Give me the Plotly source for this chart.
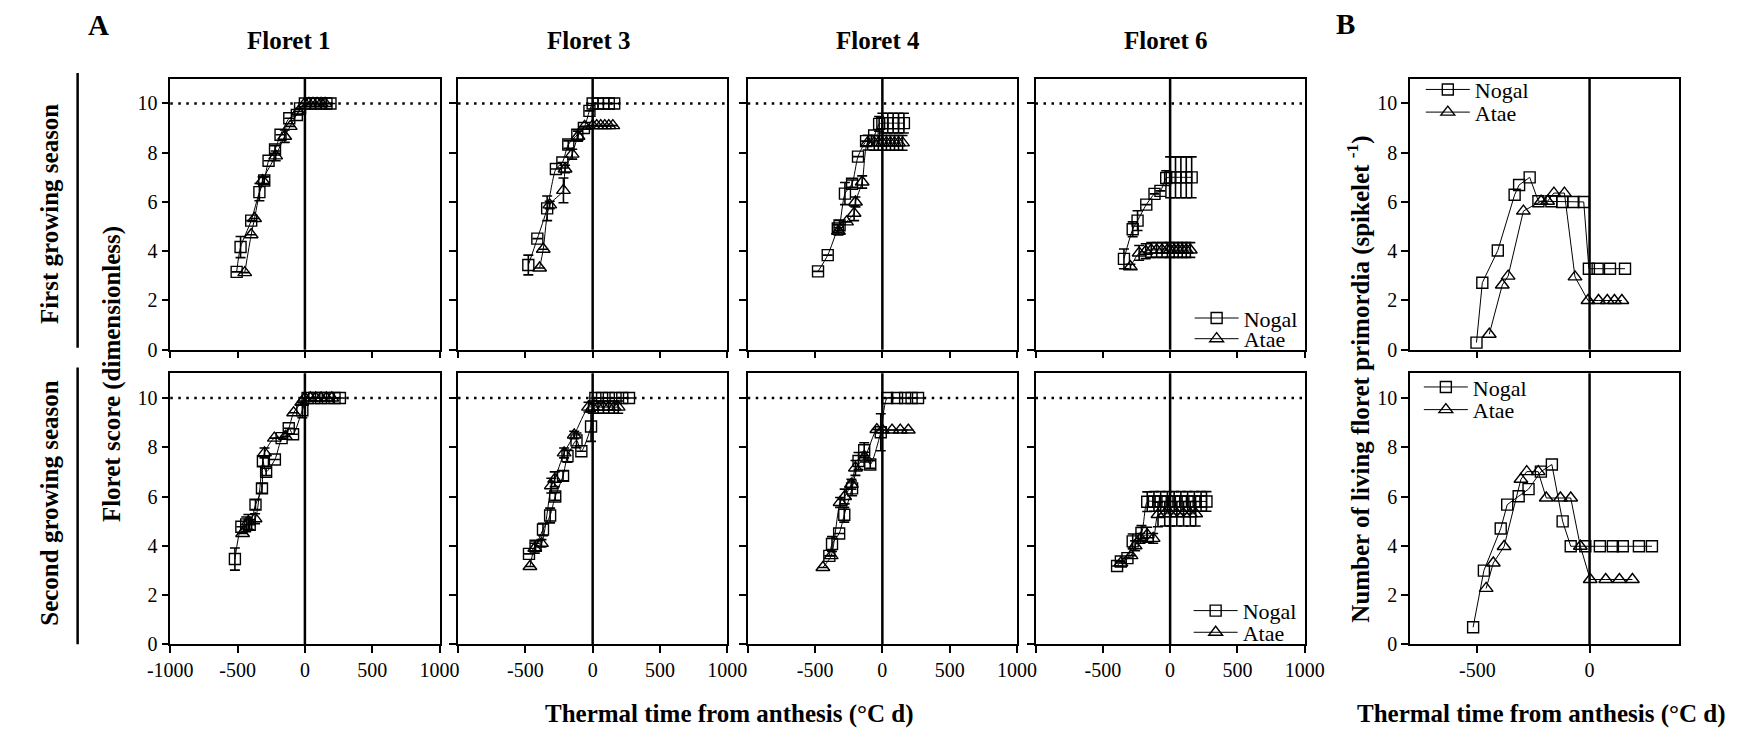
import plotly.graph_objects as go

W, H = 1751, 741
FONT = "Liberation Serif, Times New Roman, serif"

# ---------------- Floret score, first growing season ----------------
f1_s1_nogal_x = [-507, -478, -399, -338, -302, -270, -222, -181, -116, -60, -36, 0, 40, 80, 120, 160, 190]
f1_s1_nogal_y = [3.16, 4.17, 5.24, 6.4, 6.87, 7.67, 8.13, 8.73, 9.4, 9.53, 9.8, 10, 10, 10, 10, 10, 10]
f1_s1_nogal_e = [None, 0.43, None, 0.35, 0.15, None, 0.15, None, None, None, None, None, None, None, None, None, None]
f1_s1_atae_x = [-447, -399, -374, -314, -217, -150, -109, -48, 0, 30, 60, 90, 120, 150]
f1_s1_atae_y = [3.13, 4.67, 5.33, 6.87, 7.87, 8.67, 9.07, 9.67, 10, 10, 10, 10, 10, 10]
f1_s1_atae_e = [None, None, None, 0.15, 0.2, 0.25, None, None, None, None, None, None, None, None]

f3_s1_nogal_x = [-478, -411, -338, -273, -225, -181, -114, -65, -24, 0, 40, 80, 120, 160]
f3_s1_nogal_y = [3.44, 4.51, 5.74, 7.34, 7.6, 8.33, 8.73, 9.0, 9.7, 10, 10, 10, 10, 10]
f3_s1_nogal_e = [0.4, None, 0.5, None, None, 0.15, 0.2, None, None, None, None, None, None, None]
f3_s1_atae_x = [-394, -367, -319, -217, -205, -152, -109, -60, 0, 30, 60, 90, 120, 150]
f3_s1_atae_y = [3.32, 4.08, 5.88, 6.47, 7.34, 7.94, 8.67, 9.07, 9.1, 9.1, 9.1, 9.1, 9.1, 9.1]
f3_s1_atae_e = [None, None, 0.15, 0.5, 0.15, 0.2, 0.2, None, None, None, None, None, None, None]

f4_s1_nogal_x = [-478, -406, -331, -318, -278, -225, -181, -121, -61, -24, 0, 40, 80, 120, 160]
f4_s1_nogal_y = [3.18, 3.84, 4.92, 5.05, 6.34, 6.74, 7.84, 8.47, 8.7, 9.17, 9.2, 9.2, 9.2, 9.2, 9.2]
f4_s1_nogal_e = [None, None, 0.15, 0.2, 0.45, 0.15, None, None, None, 0.3, 0.4, 0.4, 0.4, 0.4, 0.4]
f4_s1_atae_x = [-326, -266, -210, -200, -150, -109, -60, -30, 0, 30, 60, 90, 120, 150]
f4_s1_atae_y = [4.81, 5.19, 5.54, 6.0, 6.81, 8.41, 8.4, 8.4, 8.4, 8.4, 8.4, 8.4, 8.4, 8.4]
f4_s1_atae_e = [0.15, None, 0.3, 0.2, 0.25, 0.3, 0.3, 0.3, 0.3, 0.3, 0.3, 0.3, 0.3, 0.3]

f6_s1_nogal_x = [-343, -278, -242, -177, -116, -72, -29, 0, 40, 80, 120, 160]
f6_s1_nogal_y = [3.69, 4.89, 5.24, 5.89, 6.33, 6.45, 6.97, 7.0, 7.0, 7.0, 7.0, 7.0]
f6_s1_nogal_e = [0.4, 0.3, 0.4, None, None, None, 0.3, 0.83, 0.83, 0.83, 0.83, 0.83]
f6_s1_atae_x = [-295, -230, -181, -140, -100, -60, -20, 0, 30, 60, 90, 120, 150]
f6_s1_atae_y = [3.37, 3.93, 4.0, 4.05, 4.05, 4.05, 4.05, 4.05, 4.05, 4.05, 4.05, 4.05, 4.05]
f6_s1_atae_e = [0.1, 0.3, 0.3, 0.3, 0.3, 0.3, 0.3, 0.3, 0.3, 0.3, 0.3, 0.3, 0.3]

# ---------------- Floret score, second growing season ----------------
f1_s2_nogal_x = [-520, -472, -436, -410, -367, -319, -312, -288, -223, -173, -120, -88, -19, 20, 70, 120, 170, 220, 260]
f1_s2_nogal_y = [3.46, 4.77, 4.87, 4.85, 5.67, 6.33, 7.43, 7.0, 7.5, 8.37, 8.77, 8.53, 9.5, 10, 10, 10, 10, 10, 10]
f1_s2_nogal_e = [0.45, None, 0.3, 0.2, 0.2, 0.2, 0.2, 0.15, None, None, None, None, 0.3, None, None, None, None, None, None]
f1_s2_atae_x = [-463, -420, -370, -300, -227, -145, -84, -24, 0, 40, 80, 120, 160, 200]
f1_s2_atae_y = [4.5, 4.97, 5.1, 7.77, 8.37, 8.44, 9.4, 9.83, 10, 10, 10, 10, 10, 10]
f1_s2_atae_e = [None, 0.3, 0.2, 0.2, None, None, None, None, None, None, None, None, None, None]

f3_s2_nogal_x = [-473, -424, -369, -316, -278, -220, -187, -120, -84, -12, 20, 70, 120, 170, 220, 270]
f3_s2_nogal_y = [3.67, 4.0, 4.66, 5.23, 6.0, 6.84, 7.64, 8.28, 7.84, 8.84, 10, 10, 10, 10, 10, 10]
f3_s2_nogal_e = [None, 0.2, 0.25, 0.3, 0.15, 0.2, 0.25, 0.3, None, 0.6, None, None, None, None, None, None]
f3_s2_atae_x = [-466, -430, -380, -307, -282, -212, -137, -31, 0, 40, 80, 120, 160, 190]
f3_s2_atae_y = [3.16, 3.9, 4.1, 6.44, 6.7, 7.77, 8.5, 9.63, 9.63, 9.63, 9.63, 9.63, 9.63, 9.63]
f3_s2_atae_e = [None, 0.2, 0.15, 0.3, 0.3, 0.2, 0.15, 0.2, 0.25, 0.25, 0.25, 0.25, 0.25, 0.25]

f4_s2_nogal_x = [-394, -374, -321, -283, -225, -177, -135, -90, -12, 36, 109, 169, 217, 265]
f4_s2_nogal_y = [3.59, 4.07, 4.5, 5.26, 6.33, 7.44, 7.88, 7.3, 8.61, 10, 10, 10, 10, 10]
f4_s2_nogal_e = [None, 0.3, None, 0.3, 0.3, 0.35, 0.3, 0.15, 0.75, None, None, None, None, None]
f4_s2_atae_x = [-442, -380, -314, -280, -230, -200, -130, -41, 0, 72, 133, 193]
f4_s2_atae_y = [3.12, 3.6, 5.76, 6.0, 6.5, 7.16, 7.6, 8.72, 8.7, 8.7, 8.7, 8.7]
f4_s2_atae_e = [None, None, 0.2, 0.3, 0.2, 0.3, 0.2, None, None, None, None, None]

f6_s2_nogal_x = [-394, -366, -317, -278, -213, -170, -120, -70, -20, 30, 80, 130, 180, 230, 270]
f6_s2_nogal_y = [3.18, 3.36, 3.5, 4.18, 4.52, 5.79, 5.8, 5.8, 5.8, 5.8, 5.8, 5.8, 5.8, 5.8, 5.8]
f6_s2_nogal_e = [None, None, None, 0.3, 0.3, 0.4, 0.4, 0.4, 0.4, 0.4, 0.4, 0.4, 0.4, 0.4, 0.4]
f6_s2_atae_x = [-366, -290, -260, -220, -170, -126, -90, -40, 0, 50, 100, 150, 190]
f6_s2_atae_y = [3.3, 3.6, 4.0, 4.3, 4.45, 4.3, 5.27, 5.3, 5.3, 5.3, 5.3, 5.3, 5.3]
f6_s2_atae_e = [None, None, 0.2, 0.2, 0.3, 0.2, 0.5, 0.5, 0.5, 0.5, 0.5, 0.5, 0.5]

# ---------------- Living floret primordia per spikelet ----------------
b_s1_nogal_x = [-504, -478, -409, -334, -314, -267, -228, -170, -122, -72, -26, -3, 36, 91, 158]
b_s1_nogal_y = [0.29, 2.72, 4.03, 6.29, 6.69, 7.0, 6.03, 6.03, 6.0, 6.0, 6.0, 3.29, 3.29, 3.29, 3.29]
b_s1_atae_x = [-447, -389, -363, -295, -216, -187, -159, -112, -65, -7, 40, 79, 111, 144]
b_s1_atae_y = [0.63, 2.63, 2.99, 5.63, 6.03, 6.03, 6.36, 6.36, 2.96, 2.0, 2.0, 2.0, 2.0, 2.0]

b_s2_nogal_x = [-519, -471, -396, -367, -316, -272, -217, -168, -120, -84, -19, 46, 104, 148, 220, 278]
b_s2_nogal_y = [0.69, 2.99, 4.7, 5.67, 6.01, 6.3, 7.01, 7.3, 4.99, 3.98, 3.98, 3.98, 3.98, 3.98, 3.98, 3.98]
b_s2_atae_x = [-461, -429, -381, -306, -280, -229, -193, -130, -84, -41, 3, 72, 133, 191]
b_s2_atae_y = [2.27, 3.3, 3.97, 6.7, 7.01, 7.01, 5.94, 5.94, 5.94, 3.98, 2.63, 2.63, 2.63, 2.63]

# ---------------- Text ----------------
floret_titles = ["Floret 1", "Floret 3", "Floret 4", "Floret 6"]
season_labels = ["First growing season", "Second growing season"]
cultivars = ["Nogal", "Atae"]
a_xticks = [-1000, -500, 0, 500, 1000]
b_xticks = [-500, 0]
y_ticks = [0, 2, 4, 6, 8, 10]

# ---------------- Layout geometry (pixels) ----------------
cols_px = [(151, 427), (446, 722), (743, 1019), (1038, 1314), (1422, 1698)]
rows_px = [(80, 355), (379, 654)]

fig = go.Figure()


def ax_ids(i):
    return ("x" if i == 1 else f"x{i}"), ("y" if i == 1 else f"y{i}")


def add_series(i, x, y, err, name, legend=None, spline=True):
    xa, ya = ax_ids(i)
    symbol = "square-open" if name == cultivars[0] else "triangle-up-open"
    size = 11 if name == cultivars[0] else 12
    kw = {}
    if err is not None:
        kw["error_y"] = dict(type="data", array=err, visible=True, color="black",
                             thickness=1.6, width=5)
    fig.add_trace(go.Scatter(
        x=x, y=y, name=name, xaxis=xa, yaxis=ya, mode="lines+markers",
        line=dict(color="black", width=1, shape="spline" if spline else "linear", smoothing=0.7),
        marker=dict(symbol=symbol, size=size, color="black", line=dict(width=1.4, color="black")),
        showlegend=legend is not None, legend=legend if legend else "legend",
        **kw))


a_data = [
    [(f1_s1_nogal_x, f1_s1_nogal_y, f1_s1_nogal_e, f1_s1_atae_x, f1_s1_atae_y, f1_s1_atae_e),
     (f3_s1_nogal_x, f3_s1_nogal_y, f3_s1_nogal_e, f3_s1_atae_x, f3_s1_atae_y, f3_s1_atae_e),
     (f4_s1_nogal_x, f4_s1_nogal_y, f4_s1_nogal_e, f4_s1_atae_x, f4_s1_atae_y, f4_s1_atae_e),
     (f6_s1_nogal_x, f6_s1_nogal_y, f6_s1_nogal_e, f6_s1_atae_x, f6_s1_atae_y, f6_s1_atae_e)],
    [(f1_s2_nogal_x, f1_s2_nogal_y, f1_s2_nogal_e, f1_s2_atae_x, f1_s2_atae_y, f1_s2_atae_e),
     (f3_s2_nogal_x, f3_s2_nogal_y, f3_s2_nogal_e, f3_s2_atae_x, f3_s2_atae_y, f3_s2_atae_e),
     (f4_s2_nogal_x, f4_s2_nogal_y, f4_s2_nogal_e, f4_s2_atae_x, f4_s2_atae_y, f4_s2_atae_e),
     (f6_s2_nogal_x, f6_s2_nogal_y, f6_s2_nogal_e, f6_s2_atae_x, f6_s2_atae_y, f6_s2_atae_e)],
]
b_data = [
    (b_s1_nogal_x, b_s1_nogal_y, b_s1_atae_x, b_s1_atae_y),
    (b_s2_nogal_x, b_s2_nogal_y, b_s2_atae_x, b_s2_atae_y),
]

# legend slots: (panel index, cultivar) -> legend id
legend_ids = {(4, "Nogal"): "legend", (4, "Atae"): "legend2",
              (9, "Nogal"): "legend3", (9, "Atae"): "legend4",
              (5, "Nogal"): "legend5", (5, "Atae"): "legend6",
              (10, "Nogal"): "legend7", (10, "Atae"): "legend8"}

for r in range(2):
    for c in range(4):
        i = r * 5 + c + 1
        nx, ny, ne, ax_, ay_, ae_ = a_data[r][c]
        add_series(i, nx, ny, ne, "Nogal", legend_ids.get((i, "Nogal")))
        add_series(i, ax_, ay_, ae_, "Atae", legend_ids.get((i, "Atae")))
    i = r * 5 + 5
    nx, ny, ax_, ay_ = b_data[r]
    add_series(i, nx, ny, None, "Nogal", legend_ids.get((i, "Nogal")), spline=False)
    add_series(i, ax_, ay_, None, "Atae", legend_ids.get((i, "Atae")), spline=False)

axis_common = dict(showline=True, mirror=True, linecolor="black", linewidth=1.5,
                   ticks="outside", ticklen=7, tickwidth=1.5, tickcolor="black",
                   showgrid=False, zeroline=False,
                   tickfont=dict(family=FONT, size=20, color="black"))

layout_axes = {}
shapes = []
for r in range(2):
    top, bot = rows_px[r]
    for c in range(5):
        i = r * 5 + c + 1
        left, right = cols_px[c]
        xa, ya = ax_ids(i)
        xname = "xaxis" if i == 1 else f"xaxis{i}"
        yname = "yaxis" if i == 1 else f"yaxis{i}"
        if c < 4:
            xticks = a_xticks
            xrange = [-1000, 1000]
            if c == 0:
                xtext = [str(v) for v in a_xticks]
            else:
                xtext = [""] + [str(v) for v in a_xticks[1:]]
        else:
            xticks = b_xticks
            xrange = [-800, 400]
            xtext = [str(v) for v in b_xticks]
        layout_axes[xname] = dict(axis_common, domain=[left / W, right / W], anchor=ya,
                                  range=xrange, tickvals=xticks, ticktext=xtext,
                                  showticklabels=(r == 1))
        layout_axes[yname] = dict(axis_common, domain=[1 - bot / H, 1 - top / H], anchor=xa,
                                  range=[0, 11], tickvals=y_ticks,
                                  ticktext=[str(v) for v in y_ticks],
                                  showticklabels=(c == 0 or c == 4))
        # anthesis reference line
        shapes.append(dict(type="line", xref=xa, yref=f"{ya} domain", x0=0, x1=0, y0=0, y1=1,
                           line=dict(color="black", width=2.5), layer="above"))
        # maximum floret score
        if c < 4:
            shapes.append(dict(type="line", xref=f"{xa} domain", yref=ya, x0=0, x1=1, y0=10, y1=10,
                               line=dict(color="black", width=2.5, dash="2.5px,5.5px"), layer="below"))

# season brackets
for (y0p, y1p) in [(74, 353), (373, 654)]:
    shapes.append(dict(type="line", xref="paper", yref="paper", x0=56 / W, x1=56 / W,
                       y0=1 - y0p / H, y1=1 - y1p / H, line=dict(color="black", width=2.5)))

annotations = []


def txt(text, xp, yp, size, bold=True, angle=0, yanchor="middle"):
    annotations.append(dict(text=f"<b>{text}</b>" if bold else text, x=xp / W, y=1 - yp / H,
                            xref="paper", yref="paper", showarrow=False, textangle=angle,
                            xanchor="center", yanchor=yanchor,
                            font=dict(family=FONT, size=size, color="black")))


txt("A", 77, 25, 29)
txt("B", 1356, 24, 29)
for title, xc in zip(floret_titles, [273, 580, 877, 1172]):
    txt(title, xc, 41, 25)
txt(season_labels[0], 27, 217, 25, angle=-90)
txt(season_labels[1], 27, 510, 25, angle=-90)
txt("Floret score (dimensionless)", 92, 380, 25, angle=-90)
txt("Number of living floret primordia (spikelet <sup>-1</sup>)", 1369, 385, 25, angle=-90)
# axis titles sit on the bottom edge of the page
txt("Thermal time from anthesis (°C d)", 724, 741, 25, yanchor="bottom")
txt("Thermal time from anthesis (°C d)", 1557, 741, 25, yanchor="bottom")

# legend placement: (legend id, left px, centre y px)
legend_pos = [("legend", 1196, 323), ("legend2", 1196, 344),
              ("legend3", 1195, 620), ("legend4", 1195, 642),
              ("legend5", 1433, 91), ("legend6", 1433, 114),
              ("legend7", 1431, 393), ("legend8", 1431, 416)]
legends = {}
for lid, lx, ly in legend_pos:
    legends[lid] = dict(x=lx / W, y=1 - ly / H, xanchor="left", yanchor="middle",
                        bgcolor="rgba(0,0,0,0)", borderwidth=0, itemwidth=44,
                        font=dict(family=FONT, size=22, color="black"))

fig.update_layout(
    width=W, height=H, margin=dict(l=0, r=0, t=0, b=0),
    paper_bgcolor="white", plot_bgcolor="white",
    font=dict(family=FONT, color="black"),
    shapes=shapes, annotations=annotations,
    **layout_axes, **legends,
)

fig.write_html("out.html")
